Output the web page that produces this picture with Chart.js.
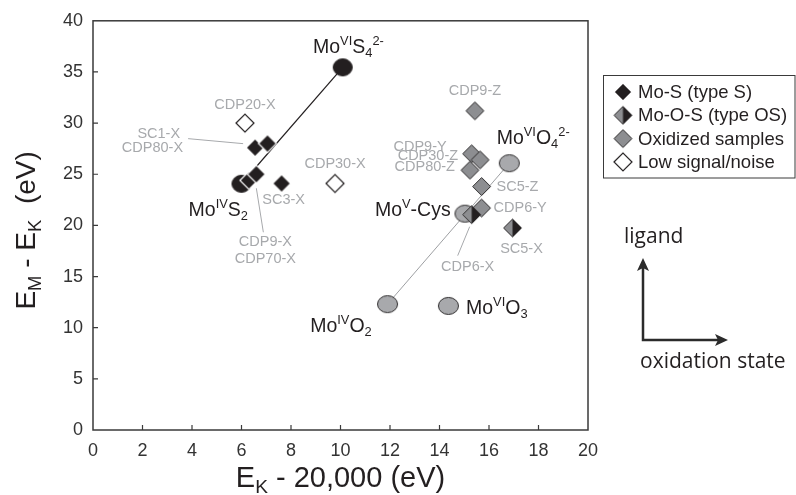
<!DOCTYPE html>
<html>
<head>
<meta charset="utf-8">
<script src="https://cdn.jsdelivr.net/npm/chart.js@4.4.1/dist/chart.umd.min.js"></script>
<style>
  html, body { margin: 0; padding: 0; background: #fff; }
  #wrap { width: 796px; height: 495px; }
</style>
</head>
<body>
<div id="wrap"><canvas id="chart" width="796" height="495"></canvas></div>
<script>
// ---- data: samples ----
const moSNames = ['SC1-X', 'CDP80-X', 'CDP9-X', 'CDP70-X', 'SC3-X'];
const moSX = [6.55, 7.05, 6.3, 6.6, 7.62];
const moSY = [27.6, 28.0, 24.4, 25.0, 24.1];

const moOSNames = ['CDP6-X', 'SC5-X'];
const moOSX = [15.3, 16.95];
const moOSY = [21.05, 19.75];

const oxNames = ['CDP9-Z', 'CDP9-Y', 'CDP30-Z', 'CDP80-Z', 'SC5-Z', 'CDP6-Y'];
const oxX = [15.43, 15.3, 15.64, 15.23, 15.7, 15.7];
const oxY = [31.2, 27.0, 26.4, 25.4, 23.8, 21.7];

const lowNames = ['CDP20-X', 'CDP30-X'];
const lowX = [6.14, 9.78];
const lowY = [30.0, 24.1];

// ---- data: reference compounds ----
const sRefNames = ['MoIVS2', 'MoVIS4'];
const sRefX = [6.0, 10.09];
const sRefY = [24.07, 35.45];

const oRefNames = ['MoIVO2', 'MoV-Cys', 'MoVIO3', 'MoVIO4'];
const oRefX = [11.9, 15.03, 14.36, 16.82];
const oRefY = [12.3, 21.15, 12.13, 26.08];

const xTicks = [0, 2, 4, 6, 8, 10, 12, 14, 16, 18, 20];
const yTicks = [0, 5, 10, 15, 20, 25, 30, 35, 40];

// ---- styles ----
const FONT = "'Liberation Sans', Arial, Helvetica, sans-serif";
const BLACK = '#231f20';
const GREY_TEXT = '#a7a9ac';
const DIAMOND_GREY = '#8d8e91';
const CIRCLE_GREY = '#a8a9ac';
const EDGE = '#2e2c2d';

function makeDiamond(r, fill, stroke, lw, rightFill) {
    const c = document.createElement('canvas');
    const s = Math.ceil(2 * r + lw + 2);
    c.width = s; c.height = s;
    const g = c.getContext('2d');
    const m = s / 2;
    const path = () => {
        g.beginPath();
        g.moveTo(m - r, m); g.lineTo(m, m - r); g.lineTo(m + r, m); g.lineTo(m, m + r);
        g.closePath();
    };
    path(); g.fillStyle = fill; g.fill();
    if (rightFill) {
        g.beginPath();
        g.moveTo(m, m - r); g.lineTo(m + r, m); g.lineTo(m, m + r);
        g.closePath();
        g.fillStyle = rightFill; g.fill();
    }
    path(); g.lineWidth = lw; g.strokeStyle = stroke; g.stroke();
    return c;
}

function makeEllipse(w, h, fill, stroke, lw) {
    const c = document.createElement('canvas');
    c.width = Math.ceil(w + lw + 2); c.height = Math.ceil(h + lw + 2);
    const g = c.getContext('2d');
    g.beginPath();
    g.ellipse(c.width / 2, c.height / 2, w / 2, h / 2, 0, 0, Math.PI * 2);
    g.fillStyle = fill; g.fill();
    g.lineWidth = lw; g.strokeStyle = stroke; g.stroke();
    return c;
}

const styleS = makeDiamond(9, BLACK, '#ffffff', 1.2);
const styleOS = makeDiamond(9, DIAMOND_GREY, EDGE, 1, BLACK);
const styleOx = makeDiamond(9, DIAMOND_GREY, EDGE, 1);
const styleLow = makeDiamond(9, '#ffffff', BLACK, 1.2);
const styleSRef = makeEllipse(19, 17, BLACK, BLACK, 1);
const styleORef = makeEllipse(20, 17, CIRCLE_GREY, EDGE, 1);

const pts = (xs, ys) => xs.map((x, i) => ({x: x, y: ys[i]}));

// name -> data position, for labels
const posOf = {};
[[moSNames, moSX, moSY], [moOSNames, moOSX, moOSY], [oxNames, oxX, oxY], [lowNames, lowX, lowY],
 [sRefNames, sRefX, sRefY], [oRefNames, oRefX, oRefY]].forEach(([n, xs, ys]) => {
    n.forEach((name, i) => { posOf[name] = [xs[i], ys[i]]; });
});

// gray sample labels: [text, anchor point, dx, dy, align]
const sampleLabels = [
    ['CDP20-X', 'CDP20-X', 0, -18, 'center'],
    ['SC1-X', 'SC1-X', -75, -14, 'right'],
    ['CDP80-X', 'SC1-X', -72, 0, 'right'],
    ['CDP9-X', 'CDP70-X', 9, 68, 'center'],
    ['CDP70-X', 'CDP70-X', 9, 85, 'center'],
    ['SC3-X', 'SC3-X', 2, 17, 'center'],
    ['CDP30-X', 'CDP30-X', 0, -19.5, 'center'],
    ['CDP9-Z', 'CDP9-Z', 0, -20, 'center'],
    ['CDP9-Y', 'CDP9-Y', -25, -7, 'right'],
    ['CDP30-Z', 'CDP30-Z', -22, -4, 'right'],
    ['CDP80-Z', 'CDP80-Z', -15, -3, 'right'],
    ['SC5-Z', 'SC5-Z', 15, 0, 'left'],
    ['CDP6-Y', 'CDP6-Y', 12, 0, 'left'],
    ['CDP6-X', 'CDP6-X', -4, 52, 'center'],
    ['SC5-X', 'SC5-X', 9, 21, 'center']
];

// leader lines: [anchor point, dx1, dy1, dx2, dy2]
const leaders = [
    ['SC1-X', -67, -9, -12, -4],
    ['CDP70-X', 0, 14, 7, 58],
    ['CDP6-X', -2, 12, -14, 41]
];

// reference compound labels with super/subscripts
const refLabels = [
    ['MoIVS2', [['Mo'], ['IV', 'sup'], ['S'], ['2', 'sub']], 6.5, 25, 'right'],
    ['MoVIS4', [['Mo'], ['VI', 'sup'], ['S'], ['4', 'sub'], ['2-', 'sup']], -29.7, -21.6, 'left'],
    ['MoV-Cys', [['Mo'], ['V', 'sup'], ['-Cys']], -14.3, -5, 'right'],
    ['MoVIO4', [['Mo'], ['VI', 'sup'], ['O'], ['4', 'sub'], ['2-', 'sup']], -12.6, -26, 'left'],
    ['MoIVO2', [['Mo'], ['IV', 'sup'], ['O'], ['2', 'sub']], -15.8, 21, 'right'],
    ['MoVIO3', [['Mo'], ['VI', 'sup'], ['O'], ['3', 'sub']], 17.6, 1, 'left']
];

function drawRich(ctx, parts, x, y, align, size, color, family) {
    const small = size * 0.66;
    let total = 0;
    const widths = parts.map(p => {
        ctx.font = (p[1] ? small : size) + 'px ' + family;
        const w = ctx.measureText(p[0]).width;
        total += w;
        return w;
    });
    let cx = align === 'center' ? x - total / 2 : align === 'right' ? x - total : x;
    const base = y + size * 0.358;
    ctx.fillStyle = color;
    ctx.textAlign = 'left';
    ctx.textBaseline = 'alphabetic';
    parts.forEach((p, i) => {
        ctx.font = (p[1] ? small : size) + 'px ' + family;
        let by = base;
        if (p[1] === 'sup') by = base - size * 0.4;
        if (p[1] === 'sub') by = base + size * 0.2;
        ctx.fillText(p[0], cx, by);
        cx += widths[i];
    });
}

function arrowHead(ctx, x, y, dir) {
    ctx.beginPath();
    if (dir === 'up') {
        ctx.moveTo(x, y); ctx.lineTo(x - 6, y + 13); ctx.lineTo(x, y + 10); ctx.lineTo(x + 6, y + 13);
    } else {
        ctx.moveTo(x, y); ctx.lineTo(x - 13, y - 6); ctx.lineTo(x - 10, y); ctx.lineTo(x - 13, y + 6);
    }
    ctx.closePath();
    ctx.fill();
}

const decorations = {
    id: 'decorations',
    afterDatasetsDraw(chart) {
        const {ctx, chartArea: a, scales: {x, y}} = chart;
        const px = name => [x.getPixelForValue(posOf[name][0]), y.getPixelForValue(posOf[name][1])];
        ctx.save();

        // frame
        ctx.strokeStyle = '#3a3a3a';
        ctx.lineWidth = 1.5;
        ctx.strokeRect(a.left, a.top, a.right - a.left, a.bottom - a.top);
        // inward tick marks
        ctx.beginPath();
        xTicks.slice(1, -1).forEach(v => {
            const p = x.getPixelForValue(v);
            ctx.moveTo(p, a.bottom); ctx.lineTo(p, a.bottom - 5);
        });
        yTicks.slice(1, -1).forEach(v => {
            const p = y.getPixelForValue(v);
            ctx.moveTo(a.left, p); ctx.lineTo(a.left + 5, p);
        });
        ctx.lineWidth = 1.2;
        ctx.stroke();

        // leader lines
        ctx.strokeStyle = GREY_TEXT;
        ctx.lineWidth = 1;
        leaders.forEach(([name, dx1, dy1, dx2, dy2]) => {
            const [cx, cy] = px(name);
            ctx.beginPath();
            ctx.moveTo(cx + dx1, cy + dy1);
            ctx.lineTo(cx + dx2, cy + dy2);
            ctx.stroke();
        });

        // sample labels
        ctx.font = '14.5px ' + FONT;
        ctx.fillStyle = GREY_TEXT;
        ctx.textBaseline = 'middle';
        sampleLabels.forEach(([text, name, dx, dy, align]) => {
            const [cx, cy] = px(name);
            ctx.textAlign = align;
            ctx.fillText(text, cx + dx, cy + dy);
        });

        // reference labels
        refLabels.forEach(([name, parts, dx, dy, align]) => {
            const [cx, cy] = px(name);
            drawRich(ctx, parts, cx + dx, cy + dy, align, 19.5, BLACK, FONT);
        });

        // axis titles
        drawRich(ctx, [['E'], ['K', 'sub'], [' - 20,000 (eV)']],
            (a.left + a.right) / 2, a.bottom + 47, 'center', 29, BLACK, FONT);
        ctx.save();
        ctx.translate(a.left - 68, (a.top + a.bottom) / 2 + 5);
        ctx.rotate(-Math.PI / 2);
        drawRich(ctx, [['E'], ['M', 'sub'], [' - E'], ['K', 'sub'], ['  (eV)']],
            0, 0, 'center', 28, BLACK, FONT);
        ctx.restore();

        // legend
        const lx = 603.5, ly = 75.5;
        ctx.strokeStyle = '#3a3a3a';
        ctx.lineWidth = 1;
        ctx.strokeRect(lx, ly, 795 - lx, 178 - ly);
        const legendSets = chart.data.datasets.filter(d => d.inLegend);
        ctx.font = '18.5px ' + FONT;
        ctx.textAlign = 'left';
        ctx.textBaseline = 'middle';
        legendSets.forEach((d, i) => {
            const rowY = 92 + i * 23.3;
            const img = d.pointStyle;
            ctx.drawImage(img, 623 - img.width / 2, rowY - img.height / 2);
            ctx.fillStyle = BLACK;
            ctx.fillText(d.label, 638, rowY + 1);
        });

        // ligand / oxidation state arrows
        ctx.strokeStyle = '#2b2b2b';
        ctx.fillStyle = '#2b2b2b';
        ctx.lineWidth = 2.5;
        ctx.beginPath();
        ctx.moveTo(643, 268); ctx.lineTo(643, 340); ctx.lineTo(718, 340);
        ctx.stroke();
        arrowHead(ctx, 643, 258, 'up');
        arrowHead(ctx, 728, 340, 'right');
        ctx.font = "21px 'Open Sans', 'Noto Sans', sans-serif";
        ctx.fillStyle = BLACK;
        ctx.textAlign = 'left';
        ctx.fillText('ligand', 624, 237);
        ctx.fillText('oxidation state', 640, 362);

        ctx.restore();
    }
};

const tickFont = {family: FONT, size: 18};

new Chart(document.getElementById('chart'), {
    type: 'scatter',
    data: {
        datasets: [
            {label: 'Mo-S (type S)', data: pts(moSX, moSY), pointStyle: styleS, pointRadius: 9, order: 2, inLegend: true},
            {label: 'Mo-O-S (type OS)', data: pts(moOSX, moOSY), pointStyle: styleOS, pointRadius: 9, order: 1, inLegend: true},
            {label: 'Oxidized samples', data: pts(oxX, oxY), pointStyle: styleOx, pointRadius: 9, order: 3, inLegend: true},
            {label: 'Low signal/noise', data: pts(lowX, lowY), pointStyle: styleLow, pointRadius: 9, order: 4, inLegend: true},
            {label: 'Mo-S references', data: pts(sRefX, sRefY), pointStyle: styleSRef, pointRadius: 9, order: 5},
            {label: 'Mo-O references', data: pts(oRefX, oRefY), pointStyle: styleORef, pointRadius: 9, order: 6},
            {label: 'S trend', data: pts(sRefX, sRefY), showLine: true, borderColor: BLACK, borderWidth: 1.2, pointRadius: 0, order: 7},
            {label: 'O trend', data: [0, 3].map(i => ({x: oRefX[i], y: oRefY[i]})), showLine: true,
             borderColor: '#9d9fa2', borderWidth: 1, pointRadius: 0, order: 8}
        ]
    },
    options: {
        responsive: false,
        animation: false,
        layout: {padding: {left: 0, top: 20, right: 208, bottom: 0}},
        plugins: {legend: {display: false}, tooltip: {enabled: false}},
        scales: {
            x: {
                type: 'linear', min: 0, max: 20,
                afterBuildTicks: s => { s.ticks = xTicks.map(v => ({value: v})); },
                afterFit: s => { s.height = 65; },
                grid: {display: false, drawTicks: false},
                border: {display: false},
                ticks: {font: tickFont, color: '#333333', padding: 10, maxRotation: 0, autoSkip: false}
            },
            y: {
                type: 'linear', min: 0, max: 40,
                afterBuildTicks: s => { s.ticks = yTicks.map(v => ({value: v})); },
                afterFit: s => { s.width = 93; },
                grid: {display: false, drawTicks: false},
                border: {display: false},
                ticks: {font: tickFont, color: '#333333', padding: 10, autoSkip: false}
            }
        }
    },
    plugins: [decorations]
});
</script>
</body>
</html>
